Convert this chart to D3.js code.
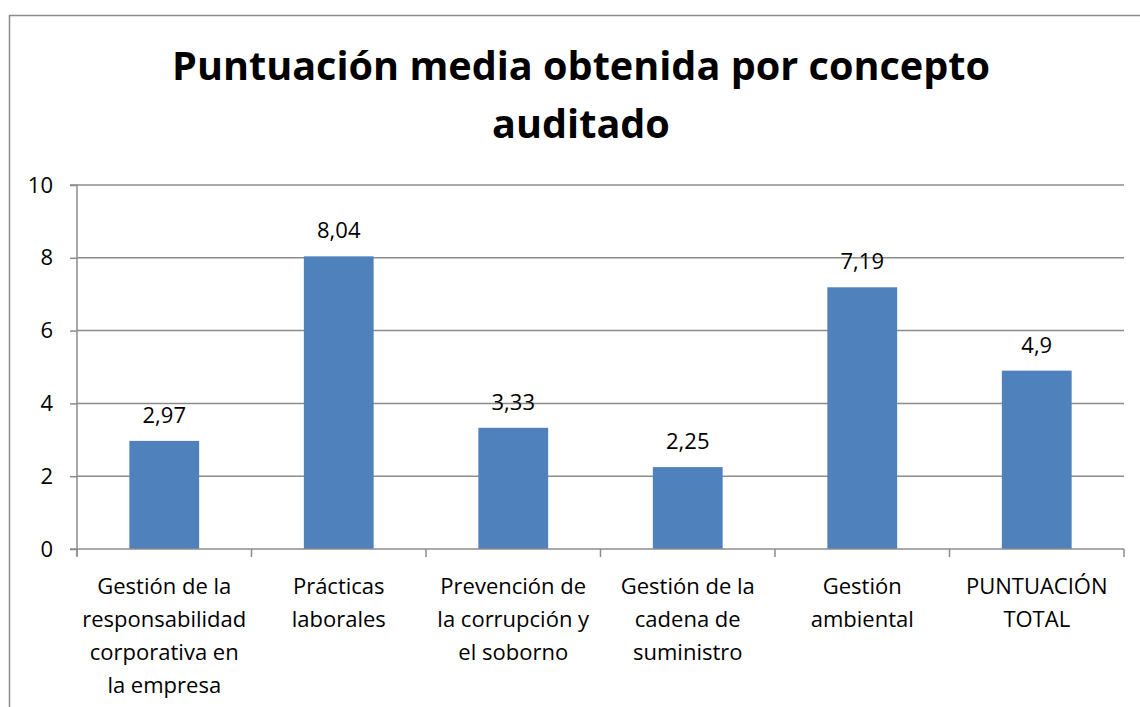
<!DOCTYPE html>
<html>
<head>
<meta charset="utf-8">
<script src="https://cdn.jsdelivr.net/npm/d3@7"></script>
<style>
  html, body { margin: 0; padding: 0; background: #fff; }
  svg { display: block; font-family: "Open Sans", "Liberation Sans", sans-serif; }
</style>
</head>
<body>
<svg id="chart" width="1140" height="707"></svg>
<script>
// Categories (wrapped into lines as shown under each bar)
const categories = [
  ["Gestión de la", "responsabilidad", "corporativa en", "la empresa"],
  ["Prácticas", "laborales"],
  ["Prevención de", "la corrupción y", "el soborno"],
  ["Gestión de la", "cadena de", "suministro"],
  ["Gestión", "ambiental"],
  ["PUNTUACIÓN", "TOTAL"]
];
const values = [2.97, 8.04, 3.33, 2.25, 7.19, 4.9];
const yTicks = [0, 2, 4, 6, 8, 10];
const titleLines = ["Puntuación media obtenida por concepto", "auditado"];

const svg = d3.select("#chart");
const W = 1140, H = 707;
const plot = { left: 77, right: 1124, top: 185, bottom: 549 };
const gridColor = "#8c8c8c";
const labelSize = 22;

// Outer chart frame
svg.append("rect")
  .attr("x", 9.5).attr("y", 15.5)
  .attr("width", W + 20).attr("height", H + 20)
  .attr("fill", "#fff").attr("stroke", gridColor).attr("stroke-width", 1.5);

// Title, sized so the first line spans ~818px
const title = svg.append("g").selectAll("text").data(titleLines).join("text")
  .attr("x", 581).attr("y", (d, i) => 80 + i * 58)
  .attr("text-anchor", "middle")
  .attr("font-size", 40).attr("font-weight", 700).attr("fill", "#000")
  .text(d => d);
const w0 = title.nodes()[0].getComputedTextLength();
title.attr("font-size", 40 * 818 / w0);

const x = d3.scaleBand()
  .domain(d3.range(categories.length))
  .range([plot.left, plot.right])
  .paddingInner(0.6).paddingOuter(0.3);

const y = d3.scaleLinear().domain([0, 10]).range([plot.bottom, plot.top]);

// Horizontal gridlines
svg.append("g").selectAll("line").data(yTicks.filter(t => t > 0)).join("line")
  .attr("x1", plot.left).attr("x2", plot.right)
  .attr("y1", d => y(d)).attr("y2", d => y(d))
  .attr("stroke", gridColor).attr("stroke-width", 1.5);

// Y axis
const yAxis = d3.axisLeft(y).tickValues(yTicks).tickSize(7).tickPadding(17)
  .tickFormat(d3.format("d"));
const gy = svg.append("g").attr("transform", `translate(${plot.left},0)`).call(yAxis);
gy.select(".domain").attr("stroke", gridColor).attr("stroke-width", 1.5)
  .attr("d", `M-7,${plot.top}H0V${plot.bottom + 7}`);
gy.selectAll(".tick line").attr("stroke", gridColor).attr("stroke-width", 1.5);
gy.selectAll(".tick text").attr("font-size", labelSize).attr("fill", "#000")
  .attr("font-family", "'Open Sans', sans-serif");

// Bars
svg.append("g").selectAll("rect").data(values).join("rect")
  .attr("x", (d, i) => x(i))
  .attr("y", d => y(d))
  .attr("width", x.bandwidth())
  .attr("height", d => y(0) - y(d))
  .attr("fill", "#4f81bd");

// Value labels
svg.append("g").selectAll("text").data(values).join("text")
  .attr("x", (d, i) => x(i) + x.bandwidth() / 2)
  .attr("y", d => y(d) - 18)
  .attr("text-anchor", "middle")
  .attr("font-size", labelSize).attr("fill", "#000")
  .text(d => d3.format(".3~g")(d).replace(".", ","));

// X axis baseline with category separators
const step = x.step();
const sepX = d3.range(categories.length + 1).map(i => plot.left + i * step);
svg.append("line")
  .attr("x1", plot.left - 7).attr("x2", plot.right)
  .attr("y1", plot.bottom).attr("y2", plot.bottom)
  .attr("stroke", gridColor).attr("stroke-width", 1.5);
svg.append("g").selectAll("line").data(sepX).join("line")
  .attr("x1", d => d).attr("x2", d => d)
  .attr("y1", plot.bottom).attr("y2", plot.bottom + 8)
  .attr("stroke", gridColor).attr("stroke-width", 1.5);

// Category labels
const lab = svg.append("g").selectAll("text").data(categories).join("text")
  .attr("text-anchor", "middle")
  .attr("font-size", labelSize).attr("fill", "#000");
lab.each(function(lines, i) {
  d3.select(this).selectAll("tspan").data(lines).join("tspan")
    .attr("x", x(i) + x.bandwidth() / 2)
    .attr("y", (l, j) => 594 + j * 33)
    .text(l => l);
});
</script>
</body>
</html>
